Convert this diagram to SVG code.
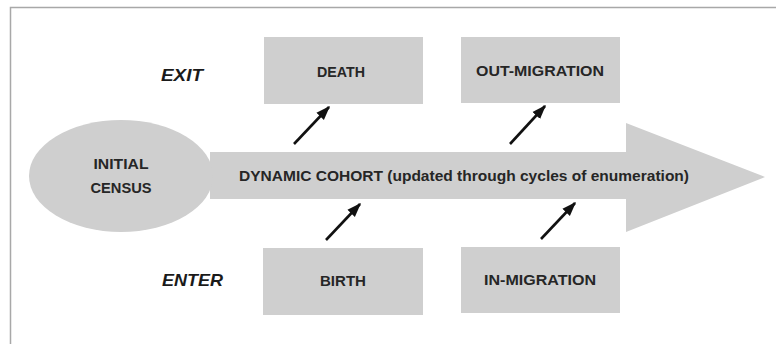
<svg xmlns="http://www.w3.org/2000/svg" width="776" height="344" viewBox="0 0 776 344">
  <style>
    .box { fill: #cfcfcf; }
    .lbl { font-family: "Liberation Sans", Arial, sans-serif; font-weight: bold; font-size: 15.5px; fill: #262626; text-anchor: middle; dominant-baseline: central; }
    .side { font-family: "Liberation Sans", Arial, sans-serif; font-weight: bold; font-style: italic; font-size: 17px; fill: #1a1a1a; dominant-baseline: central; }
    .flow { stroke: #111; stroke-width: 2.6; fill: none; marker-end: url(#head); }
  </style>
  <defs>
    <marker id="head" viewBox="0 0 10 10" refX="9" refY="5" markerWidth="5.5" markerHeight="5.5" orient="auto" markerUnits="strokeWidth">
      <path d="M0,1.4 L10,5 L0,8.6 z" fill="#111"/>
    </marker>
  </defs>

  <rect x="0" y="0" width="776" height="344" fill="#ffffff"/>
  <!-- outer frame -->
  <rect x="10.5" y="7.5" width="770" height="345" fill="none" stroke="#a8a8a8" stroke-width="1.5"/>

  <!-- cohort arrow -->
  <g id="cohort">
    <path class="box" d="M210,152 L626,152 L626,123 L765,177 L626,232 L626,199 L210,199 Z"/>
    <text class="lbl" x="464" y="175" textLength="450" lengthAdjust="spacingAndGlyphs">DYNAMIC COHORT (updated through cycles of enumeration)</text>
  </g>

  <g id="initial-census">
    <ellipse class="box" cx="121" cy="176" rx="92" ry="56"/>
    <text class="lbl" x="121" y="163" textLength="55" lengthAdjust="spacingAndGlyphs">INITIAL</text>
    <text class="lbl" x="121" y="187" textLength="61" lengthAdjust="spacingAndGlyphs">CENSUS</text>
  </g>

  <g id="exit-label">
    <text class="side" x="161" y="75" textLength="42" lengthAdjust="spacingAndGlyphs">EXIT</text>
  </g>
  <g id="enter-label">
    <text class="side" x="162" y="280" textLength="61" lengthAdjust="spacingAndGlyphs">ENTER</text>
  </g>

  <g id="death">
    <rect class="box" x="264" y="37" width="159" height="67"/>
    <text class="lbl" x="341" y="71" textLength="48" lengthAdjust="spacingAndGlyphs">DEATH</text>
  </g>
  <g id="out-migration">
    <rect class="box" x="461" y="37" width="159" height="66"/>
    <text class="lbl" x="540" y="70" textLength="128" lengthAdjust="spacingAndGlyphs">OUT-MIGRATION</text>
  </g>
  <g id="birth">
    <rect class="box" x="263" y="248" width="160" height="67"/>
    <text class="lbl" x="343" y="280" textLength="46" lengthAdjust="spacingAndGlyphs">BIRTH</text>
  </g>
  <g id="in-migration">
    <rect class="box" x="461" y="247" width="159" height="66"/>
    <text class="lbl" x="540" y="279" textLength="112" lengthAdjust="spacingAndGlyphs">IN-MIGRATION</text>
  </g>

  <!-- flows into and out of the cohort -->
  <g id="connectors">
    <line class="flow" x1="294" y1="144" x2="329" y2="107"/>
    <line class="flow" x1="510" y1="144" x2="545" y2="106"/>
    <line class="flow" x1="326" y1="240" x2="360" y2="204"/>
    <line class="flow" x1="541" y1="239" x2="575" y2="203"/>
  </g>
</svg>
